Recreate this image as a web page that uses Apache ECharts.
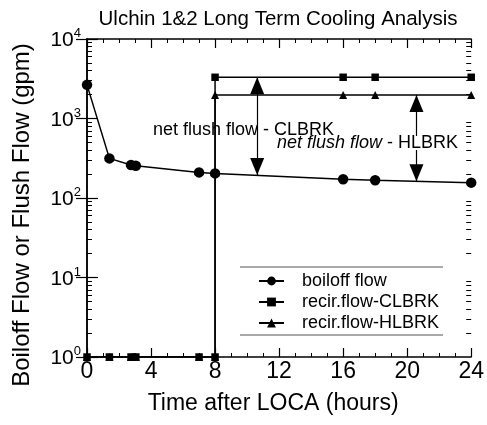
<!DOCTYPE html>
<html>
<head>
<meta charset="utf-8">
<script src="https://cdn.jsdelivr.net/npm/echarts@6/dist/echarts.min.js"></script>
<style>html,body{margin:0;padding:0;background:#fff;}#c{width:487px;height:425px;}</style>
</head>
<body>
<div id="c"></div>
<script>
// ---- data ----
const boiloffHours = [0, 1.4, 2.75, 3.05, 7, 8, 16, 18, 24];
const boiloffFlow  = [2650, 315, 260, 255, 210, 204, 172, 167, 156];
const recirHours   = [0, 1.4, 2.75, 3.05, 7, 8, 8, 16, 18, 24];
const recirCLBRK   = [1, 1, 1, 1, 1, 1, 3300, 3300, 3300, 3300];
const recirHLBRK   = [1, 1, 1, 1, 1, 1, 1980, 1980, 1980, 1980];
const seriesNames  = ['boiloff flow', 'recir.flow-CLBRK', 'recir.flow-HLBRK'];
// net flush arrows: [hour, top value, bottom value]
const arrowCLBRK = [10.63, 3300, 195];
const arrowHLBRK = [20.58, 1980, 162];
const xTickLabels = [0, 4, 8, 12, 16, 20, 24];
const yTickExponents = [0, 1, 2, 3, 4];
const minorLogTicks = [];
for (let e = 0; e < 4; e++) for (let m = 2; m <= 9; m++) minorLogTicks.push(m * Math.pow(10, e));

const FONT = 'Liberation Sans, Arial, Helvetica, sans-serif';
const chart = echarts.init(document.getElementById('c'), null, {renderer: 'canvas'});
const pair = (xs, ys) => xs.map((x, i) => [x, ys[i]]);

const xBase = {
  type: 'value', min: 0, max: 24, interval: 4,
  axisLine: {show: true, lineStyle: {color: '#000', width: 1.5}},
  axisTick: {show: true, inside: true, length: 9, lineStyle: {color: '#000', width: 1.2}},
  minorTick: {show: true, splitNumber: 4, length: 4, lineStyle: {color: '#000', width: 1}},
  splitLine: {show: false}
};
const yBase = {
  type: 'log', logBase: 10, min: 1, max: 10000,
  axisLine: {show: true, lineStyle: {color: '#000', width: 1.5}},
  axisTick: {show: true, inside: true, length: 11, lineStyle: {color: '#000', width: 1.2}},
  splitLine: {show: false}
};
const yMinor = (pos) => ({
  type: 'log', logBase: 10, min: 1, max: 10000, position: pos,
  axisLine: {show: false}, axisLabel: {show: false}, splitLine: {show: false},
  axisTick: {show: true, inside: true, length: 5, customValues: minorLogTicks, lineStyle: {color: '#000', width: 1}}
});
const arrowEnd = (x, y) => ({coord: [x, y], symbol: 'triangle', symbolSize: [14, 17], symbolOffset: [0, 8.5]});

const option = {
  animation: false,
  backgroundColor: '#fff',
  textStyle: {fontFamily: FONT, color: '#000'},
  title: {
    text: 'Ulchin 1&2 Long Term Cooling Analysis',
    left: 273, top: 4, textAlign: 'center',
    textStyle: {fontFamily: FONT, fontSize: 20.5, fontWeight: 'normal', color: '#000'}
  },
  grid: {left: 87, right: 14, top: 39, bottom: 68, containLabel: false},
  xAxis: [
    Object.assign({}, xBase, {
      position: 'bottom',
      axisLabel: {show: true, fontSize: 23, color: '#000', margin: 3, fontFamily: FONT,
        customValues: xTickLabels},
      name: 'Time after LOCA (hours)', nameLocation: 'middle', nameGap: 35,
      nameTextStyle: {fontSize: 23, color: '#000', fontFamily: FONT, padding: [0, 12, 0, 0]}
    }),
    Object.assign({}, xBase, {position: 'top', axisLabel: {show: false}})
  ],
  yAxis: [
    Object.assign({}, yBase, {
      position: 'left',
      axisLabel: {
        show: true, margin: 6, customValues: yTickExponents.map(e => Math.pow(10, e)),
        formatter: v => '{b|10}{s|' + Math.round(Math.log10(v)) + '}',
        rich: {
          b: {fontSize: 21, fontFamily: FONT, color: '#000', lineHeight: 24, verticalAlign: 'bottom'},
          s: {fontSize: 13, fontFamily: FONT, color: '#000', lineHeight: 14, verticalAlign: 'top'}
        }
      }
    }),
    Object.assign({}, yBase, {position: 'right', axisLabel: {show: false}}),
    yMinor('left'),
    yMinor('right')
  ],
  legend: {
    orient: 'vertical', left: 258, top: 272, padding: 0, itemGap: 3,
    itemWidth: 25, itemHeight: 11,
    textStyle: {fontSize: 18, fontFamily: FONT, color: '#000', padding: [0, 0, 0, 13]},
    data: seriesNames
  },
  series: [
    {
      name: seriesNames[0], type: 'line', data: pair(boiloffHours, boiloffFlow),
      symbol: 'circle', symbolSize: 10.5, showAllSymbol: true,
      lineStyle: {color: '#000', width: 1.5}, itemStyle: {color: '#000'}, z: 3,
      markLine: {
        silent: true,
        lineStyle: {color: '#000', width: 1.2, type: 'solid'}, label: {show: false},
        data: [
          [arrowEnd(arrowCLBRK[0], arrowCLBRK[1]), arrowEnd(arrowCLBRK[0], arrowCLBRK[2])],
          [arrowEnd(arrowHLBRK[0], arrowHLBRK[1]), arrowEnd(arrowHLBRK[0], arrowHLBRK[2])]
        ]
      }
    },
    {
      name: seriesNames[1], type: 'line', data: pair(recirHours, recirCLBRK),
      symbol: 'rect', symbolSize: 7.5, showAllSymbol: true,
      lineStyle: {color: '#000', width: 1.5}, itemStyle: {color: '#000'}
    },
    {
      name: seriesNames[2], type: 'line', data: pair(recirHours, recirHLBRK),
      symbol: 'triangle', symbolSize: 8, showAllSymbol: true,
      lineStyle: {color: '#000', width: 1.5}, itemStyle: {color: '#000'}
    }
  ],
  graphic: [
    {type: 'text', z: 100, rotation: Math.PI / 2, x: 22, y: 215,
      style: {text: 'Boiloff Flow or Flush Flow (gpm)', fontSize: 24, fontFamily: FONT, fill: '#000',
        align: 'center', verticalAlign: 'middle'}},
    {type: 'text', x: 277, y: 143, z: 100,
      style: {text: '{i|net flush flow} - HLBRK', fontSize: 18, fontFamily: FONT, fill: '#000',
        align: 'left', verticalAlign: 'middle', backgroundColor: '#fff', padding: [-2, 0, -2, 0],
        rich: {i: {fontStyle: 'italic', fontSize: 18, fontFamily: FONT, fill: '#000'}}}},
    {type: 'text', x: 153, y: 130, z: 101,
      style: {text: 'net flush flow - CLBRK', fontSize: 18, fontFamily: FONT, fill: '#000',
        align: 'left', verticalAlign: 'middle'}},
    {type: 'line', z: 100, shape: {x1: 240, y1: 267, x2: 443, y2: 267}, style: {stroke: '#555', lineWidth: 1}},
    {type: 'line', z: 100, shape: {x1: 240, y1: 335, x2: 443, y2: 335}, style: {stroke: '#555', lineWidth: 1}}
  ]
};
chart.setOption(option);
</script>
</body>
</html>
